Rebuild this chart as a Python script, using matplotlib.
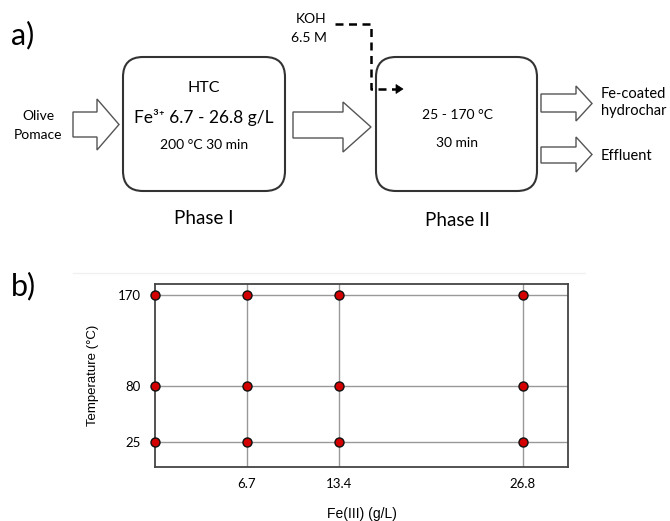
import numpy as np
import matplotlib
matplotlib.use("Agg")
import matplotlib.pyplot as plt
from matplotlib.patches import FancyBboxPatch, Polygon

# ---- data (panel b) ----
fe_levels = [0, 6.7, 13.4, 26.8]
temp_levels = [25, 80, 170]
x_ticks = [6.7, 13.4, 26.8]
x_ticklabels = ["6.7", "13.4", "26.8"]
y_ticks = [25, 80, 170]
y_ticklabels = ["25", "80", "170"]

W, H = 670, 521
fig = plt.figure(figsize=(W / 100, H / 100), dpi=100)

# ---- overlay (panel a diagram) in pixel coordinates ----
ov = fig.add_axes([0, 0, 1, 1])
ov.set_xlim(0, W)
ov.set_ylim(H, 0)
ov.axis('off')

DF = ['Lato', 'DejaVu Sans']

ov.text(11, 35, "a)", fontsize=22, family=DF, va='center', ha='left')
ov.text(11, 286, "b)", fontsize=22, family=DF, va='center', ha='left')

# rounded boxes
for (x0, x1) in [(123, 285), (376, 537)]:
    ov.add_patch(FancyBboxPatch((x0, 57), x1 - x0, 134,
                                boxstyle="round,pad=0,rounding_size=20",
                                fc='white', ec='#333333', lw=1.5))

def block_arrow(x0, xb, xt, by0, by1, hy0, hy1):
    yc = (hy0 + hy1) / 2
    pts = [(x0, by0), (xb, by0), (xb, hy0), (xt, yc), (xb, hy1), (xb, by1), (x0, by1)]
    ov.add_patch(Polygon(pts, closed=True, fc='white', ec='#555555', lw=1.0))

block_arrow(73, 97, 119, 112, 137, 99, 150)
block_arrow(293, 343, 371, 112, 138, 102, 152)
block_arrow(541, 576, 592, 94, 112, 86, 121)
block_arrow(541, 576, 592, 147, 163, 137, 172)

# box 1 text
ov.text(204, 88, "HTC", fontsize=11.5, family=DF, ha='center', va='center')
ov.text(204, 123, "Fe³⁺ 6.7 - 26.8 g/L", fontsize=12.5, family=DF, ha='center', va='baseline')
ov.text(204, 145, "200 °C 30 min", fontsize=10, family=DF, ha='center', va='center')
ov.text(204, 219, "Phase I", fontsize=13.5, family=DF, ha='center', va='center')

# box 2 text
ov.text(457, 115, "25 - 170 °C", fontsize=10, family=DF, ha='center', va='center')
ov.text(457, 143, "30 min", fontsize=10, family=DF, ha='center', va='center')
ov.text(457, 220, "Phase II", fontsize=13.5, family=DF, ha='center', va='center')

# side labels
ov.text(38, 116, "Olive", fontsize=10, family=DF, ha='center', va='center')
ov.text(38, 135, "Pomace", fontsize=10, family=DF, ha='center', va='center')
ov.text(601, 94, "Fe-coated", fontsize=10.5, family=DF, ha='left', va='center')
ov.text(601, 111, "hydrochar", fontsize=10.5, family=DF, ha='left', va='center')
ov.text(601, 156, "Effluent", fontsize=10.5, family=DF, ha='left', va='center')
ov.text(311, 19, "KOH", fontsize=10, family=DF, ha='center', va='center')
ov.text(309, 38, "6.5 M", fontsize=10, family=DF, ha='center', va='center')

# dashed KOH line
ov.plot([335, 371, 371, 396], [24, 24, 89, 89], color='black', lw=1.8,
        dashes=(3.2, 2.2), dash_capstyle='butt')
ov.add_patch(Polygon([(396, 84.5), (403, 89), (396, 93.5)], closed=True,
                     fc='black', ec='black', lw=0.5))

# faint separator line
ov.plot([73, 585], [273, 273], color='#f0f0f0', lw=1)

# ---- panel b ----
ax = fig.add_axes([155 / W, 1 - 467 / H, (568 - 155) / W, (467 - 284) / H])
ax.set_xlim(0, 30.1)
ax.set_ylim(0.3, 181)
ax.set_xticks(x_ticks)
ax.set_xticklabels(x_ticklabels, family=DF, fontsize=9.5)
ax.set_yticks(y_ticks)
ax.set_yticklabels(y_ticklabels, family=DF, fontsize=9.5)
ax.tick_params(length=0, pad=8)
ax.tick_params(axis='y', pad=10)
ax.grid(True, color='#999999', lw=1.0)
ax.set_axisbelow(True)
for s in ax.spines.values():
    s.set_color('#444444')
    s.set_linewidth(1.3)

FX, TY = np.meshgrid(fe_levels, temp_levels)
ax.plot(FX.ravel(), TY.ravel(), 'o', ms=6.5, mfc='#d40000', mec='#111111', mew=1.0,
        clip_on=False, zorder=5)

ax.set_xlabel("Fe(III) (g/L)", family='Liberation Sans', fontsize=10, labelpad=12.5)
ax.set_ylabel("Temperature (°C)", family='Liberation Sans', fontsize=9.5, labelpad=14)

fig.savefig("out.png", dpi=100)
